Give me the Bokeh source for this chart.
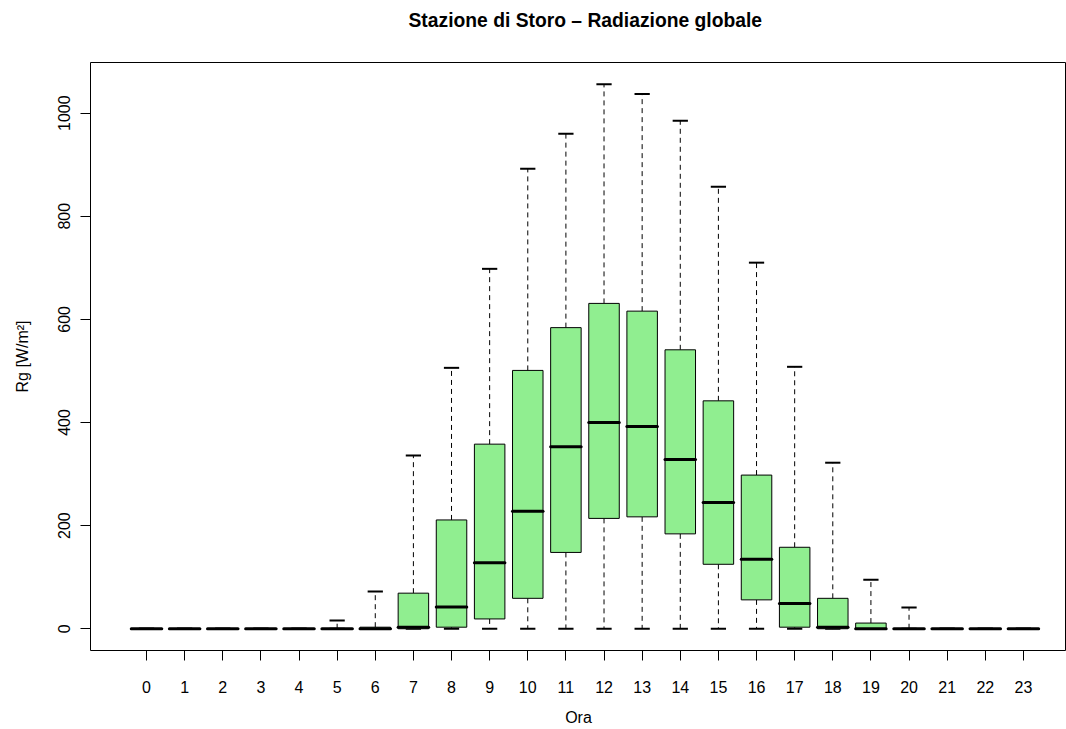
import numpy as np
from bokeh.plotting import figure
from bokeh.models import FixedTicker, Range1d, Title
from bokeh.embed import file_html
from bokeh.resources import INLINE

# ---- data ----
hours = list(range(24))
tick_labels = [str(h) for h in hours]
whisk_hi = [0, 0, 0, 0, 0, 16, 72, 336, 506, 698, 892, 960, 1056, 1037, 985, 857, 710, 508, 322, 95, 41, 0, 0, 0]
q3       = [0, 0, 0, 0, 0, 0, 3, 69, 211, 358, 501, 584, 631, 616, 541, 442, 298, 158, 59, 11, 0, 0, 0, 0]
medians  = [0, 0, 0, 0, 0, 0, 0, 3, 42, 128, 228, 353, 400, 392, 328, 245, 135, 49, 3, 0, 0, 0, 0, 0]
q1       = [0, 0, 0, 0, 0, 0, 0, 0, 3, 19, 59, 148, 214, 217, 184, 125, 56, 3, 0, 0, 0, 0, 0, 0]
whisk_lo = [0] * 24
y_ticks = [0, 200, 400, 600, 800, 1000]
title_text = "Stazione di Storo \u2013 Radiazione globale"

FONT = "Liberation Sans"
BOXW = 0.8
STAPLE = 0.4

x = np.array(hours, dtype=float)

p = figure(width=1066, height=729, output_backend="svg", toolbar_location=None,
           x_range=Range1d(-1.469, 24.13), y_range=Range1d(-42.2, 1098.2),
           min_border_left=90, min_border_right=0, min_border_top=62, min_border_bottom=79)

p.background_fill_color = "white"
p.border_fill_color = "white"
p.outline_line_color = "black"
p.outline_line_width = 1
p.xgrid.visible = False
p.ygrid.visible = False

# spacer between title and frame, then the title itself (outermost)
p.add_layout(Title(text=" ", text_font_size="1px", standoff=19), "above")
p.add_layout(Title(text=title_text, text_font=FONT, text_font_size="19.3px", text_font_style="bold",
                   text_color="black", align="left", offset=318, vertical_align="top", standoff=16),
             "above")

# whiskers (dashed)
p.segment(x0=x, y0=q3, x1=x, y1=whisk_hi, line_color="black", line_width=1, line_dash="5 4")
p.segment(x0=x, y0=q1, x1=x, y1=whisk_lo, line_color="black", line_width=1, line_dash="5 4")
# staples
p.segment(x0=x - STAPLE / 2, y0=whisk_hi, x1=x + STAPLE / 2, y1=whisk_hi, line_color="black", line_width=2)
p.segment(x0=x - STAPLE / 2, y0=whisk_lo, x1=x + STAPLE / 2, y1=whisk_lo, line_color="black", line_width=2)
# boxes
p.vbar(x=x, width=BOXW, bottom=q1, top=q3, fill_color="#90EE90", line_color="black", line_width=1)
# medians
p.segment(x0=x - BOXW / 2, y0=medians, x1=x + BOXW / 2, y1=medians, line_color="black", line_width=3,
          line_cap="round")

# axes
xa = p.xaxis[0]
xa.ticker = FixedTicker(ticks=hours)
xa.major_label_overrides = {h: l for h, l in zip(hours, tick_labels)}
xa.bounds = (0, 23)
xa.axis_label = "Ora"
ya = p.yaxis[0]
ya.ticker = FixedTicker(ticks=y_ticks)
ya.bounds = (0, 1000)
ya.axis_label = "Rg [W/m\u00b2]"
ya.major_label_orientation = "vertical"

for ax in (xa, ya):
    ax.minor_tick_line_color = None
    ax.major_tick_in = 0
    ax.major_tick_out = 10
    ax.major_tick_line_color = "black"
    ax.axis_line_color = "black"
    ax.major_label_text_font = FONT
    ax.major_label_text_font_size = "16px"
    ax.major_label_text_color = "black"
    ax.axis_label_text_font = FONT
    ax.axis_label_text_font_size = "16px"
    ax.axis_label_text_font_style = "normal"
    ax.axis_label_text_color = "black"

xa.major_label_standoff = 20
xa.axis_label_standoff = 13
ya.major_label_standoff = 10
ya.axis_label_standoff = 25

open("out.html", "w").write(file_html(p, INLINE))
